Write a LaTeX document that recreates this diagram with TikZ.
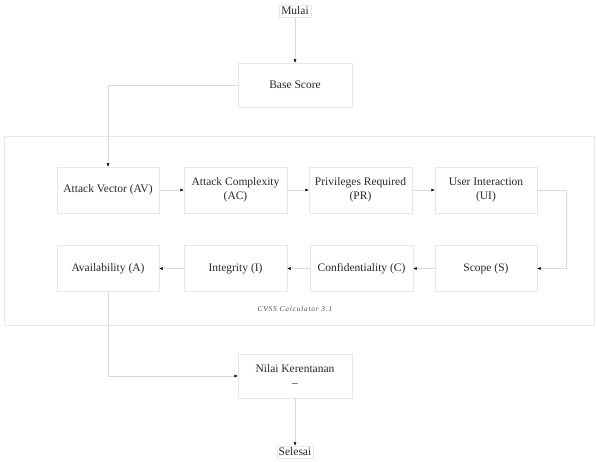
\documentclass[tikz,border=0pt]{standalone}
\usepackage{fontspec}
\setmainfont{Liberation Serif}
\usepackage{xcolor}
\usetikzlibrary{positioning,arrows.meta}

\definecolor{boxline}{RGB}{232,232,232}
\definecolor{flowline}{RGB}{218,218,218}
\definecolor{txt}{RGB}{40,40,40}

\begin{document}
\begin{tikzpicture}[x=1pt, y=-1pt,
    step box/.style={draw=boxline, minimum width=102pt, minimum height=46pt,
        align=center, text=txt, font=\fontsize{11.5}{14}\selectfont},
    end box/.style={draw=boxline, inner sep=2pt, text=txt,
        font=\fontsize{11.5}{14}\selectfont},
    flow/.style={draw=flowline, -{Latex[black,length=3.5pt,width=3pt]}}]
\useasboundingbox (0,0) rectangle (597,462);

% container
\node[draw=boxline, minimum width=590pt, minimum height=189pt] (calc) at (299,230.5) {};
\node[text=txt!80, font=\itshape\fontsize{7.5}{8}\selectfont\addfontfeatures{LetterSpace=10}] (calc_label) at (295,309) {CVSS Calculator 3.1};

\node[end box] (start) at (295,11) {Mulai};
\node[step box, minimum width=114pt, minimum height=44pt] (base) at (295,85) {Base Score};

\node[step box] (av) at (108,190) {Attack Vector (AV)};
\node[step box, minimum width=103pt] (ac) at (235.5,190) {Attack Complexity\\(AC)};
\node[step box, minimum width=103pt] (pr) at (360.5,190) {Privileges Required\\(PR)};
\node[step box] (ui) at (486,190) {User Interaction\\(UI)};

\node[step box] (avail) at (108,268.5) {Availability (A)};
\node[step box, minimum width=103pt] (integ) at (235.5,268.5) {Integrity (I)};
\node[step box, minimum width=103pt] (conf) at (361.5,268.5) {Confidentiality (C)};
\node[step box] (scope) at (486,268.5) {Scope (S)};

\node[step box, minimum width=114pt, minimum height=44pt] (score) at (295,376) {Nilai Kerentanan\\--};
\node[end box] (finish) at (295,452) {Selesai};

\coordinate (ui_turn) at (566,190);
\coordinate (s_turn) at (566,268.5);

\draw[flow] (start) -- (base);
\draw[flow] (base.west) -| (av.north);
\draw[flow] (av) -- (ac);
\draw[flow] (ac) -- (pr);
\draw[flow] (pr) -- (ui);
\draw[flow] (ui.east) -- (ui_turn) -- (s_turn) -- (scope.east);
\draw[flow] (scope) -- (conf);
\draw[flow] (conf) -- (integ);
\draw[flow] (integ) -- (avail);
\draw[flow] (avail.south) |- (score.west);
\draw[flow] (score) -- (finish);

\end{tikzpicture}
\end{document}
